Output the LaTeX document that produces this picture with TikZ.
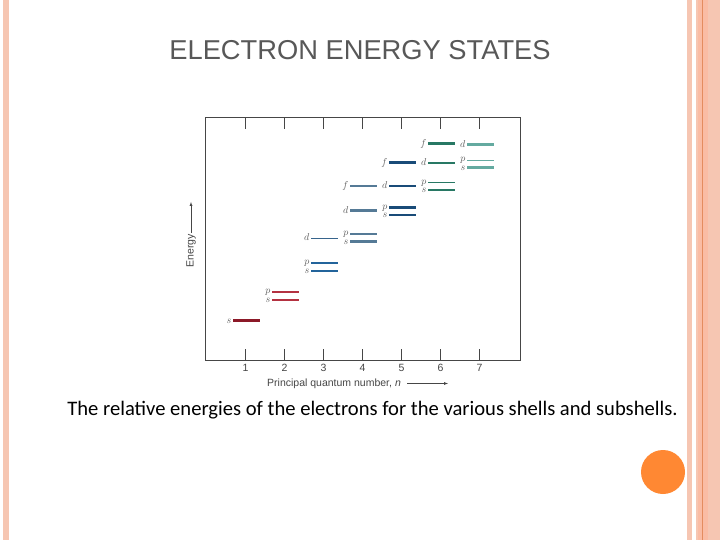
\documentclass[tikz,border=0pt]{standalone}
\usepackage{fontspec}
\setmainfont{Liberation Sans}
\newfontfamily\capfont{Carlito}
\usetikzlibrary{arrows.meta}

\definecolor{stripe}{RGB}{246,198,178}
\definecolor{stripedark}{RGB}{250,188,164}
\definecolor{stripeline}{RGB}{228,140,95}
\definecolor{dotorange}{RGB}{255,136,51}
\definecolor{titlegray}{RGB}{88,88,88}
\definecolor{axisgray}{RGB}{70,70,70}
\definecolor{labelgray}{RGB}{95,95,95}
\definecolor{lvlA}{RGB}{140,25,40}
\definecolor{lvlB}{RGB}{180,50,65}
\definecolor{lvlC}{RGB}{35,100,155}
\definecolor{lvlCd}{RGB}{55,100,140}
\definecolor{lvlD}{RGB}{85,122,150}
\definecolor{lvlE}{RGB}{25,75,120}
\definecolor{lvlF}{RGB}{40,120,100}
\definecolor{lvlG}{RGB}{100,170,160}

\tikzset{
  level/.style={line width=2.3pt},
  levelthin/.style={line width=1pt},
  sublabel/.style={anchor=east, inner sep=0pt, text height=1ex, text depth=0pt,
    text=labelgray, font=\fontsize{9.8}{9.8}\selectfont},
  ticklabel/.style={text=axisgray, font=\fontsize{10.5}{10.5}\selectfont, inner sep=1pt}
}

\begin{document}
\begin{tikzpicture}[x=1pt, y=-1pt, >=latex]

% Page
\useasboundingbox[fill=white] (0,0) rectangle (720,540);

% Side stripes
\fill[stripe] (3,0) rectangle (9,540);
\fill[stripe] (687,0) rectangle (692,540);
\fill[stripe] (696,0) rectangle (720,540);
\fill[stripedark] (698,0) rectangle (708,540);
\draw[stripeline, line width=0.8pt] (702.5,0) -- (702.5,540);
\fill[dotorange] (663,472) circle (22);

% Title and caption
\node[text=titlegray, font=\fontsize{27.3}{27.3}\selectfont] (title) at (360,50) {ELECTRON ENERGY STATES};
\node[font=\capfont\fontsize{20.6}{20.6}\selectfont] (caption) at (372.5,410)
  {The relative energies of the electrons for the various shells and subshells.};

% Frame with ticks
\def\xone{245.5}
\def\dx{39}
\draw[axisgray, line width=1pt] (205.5,118) rectangle (520.5,360);
\foreach \n in {1,...,7} {
  \draw[axisgray, line width=1pt] ({\xone+\dx*(\n-1)},118) -- ++(0,11);
  \draw[axisgray, line width=1pt] ({\xone+\dx*(\n-1)},360) -- ++(0,-11);
  \node[ticklabel] (tick\n) at ({\xone+\dx*(\n-1)},368) {\n};
}

% Axis titles
\node[ticklabel, anchor=west] (xtitle) at (266,383.5) {Principal quantum number, \textit{n}};
\coordinate (xarrow) at (448,383.5);
\draw[->, axisgray] ([xshift=5pt]xtitle.east) -- (xarrow);
\node[ticklabel, rotate=90, anchor=east] (ytitle) at (191,233) {Energy};
\coordinate (yarrow) at (191,202);
\draw[->, axisgray] (ytitle.east) -- (yarrow);

% Levels: column n / subshell / height / label nudge / colour / width
\foreach \n/\sub/\h/\dy/\col/\w in {
  1/s/320.5/0/lvlA/level,
  2/s/300/0/lvlB/level, 2/p/292/-1/lvlB/level,
  3/s/271/0/lvlC/level, 3/p/263/-1/lvlC/level, 3/d/238/0/lvlCd/levelthin,
  4/s/241.5/0/lvlD/level, 4/p/234/-1/lvlD/level, 4/d/210.5/0/lvlD/level, 4/f/186/0/lvlD/level,
  5/s/215/0/lvlE/level, 5/p/207.5/-1/lvlE/level, 5/d/186/0/lvlE/level, 5/f/162.5/0/lvlE/level,
  6/s/190/0/lvlF/level, 6/p/182.5/-1/lvlF/levelthin, 6/d/163/0/lvlF/level, 6/f/143.5/0/lvlF/level,
  7/s/167.5/0/lvlG/level, 7/p/160.5/-1.5/lvlG/levelthin, 7/d/144.5/0/lvlG/level} {
  \draw[\w, \col] ({233+\dx*(\n-1)},\h) -- ++(27,0);
  \node[sublabel] (lab\n\sub) at ({231.5+\dx*(\n-1)},{\h+\dy}) {$\sub$};
}

\end{tikzpicture}
\end{document}
